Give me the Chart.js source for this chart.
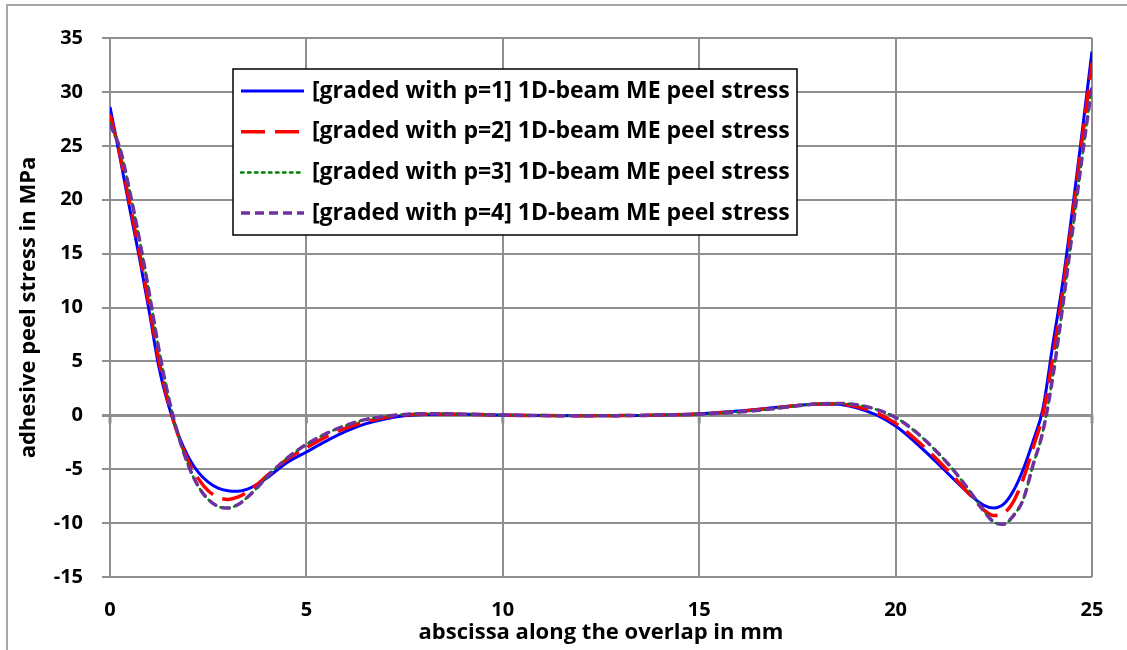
<!DOCTYPE html>
<html>
<head>
<meta charset="utf-8">
<script src="https://cdn.jsdelivr.net/npm/chart.js@4.4.0/dist/chart.umd.min.js"></script>
<style>
  html, body { margin: 0; padding: 0; background: #fff; overflow: hidden; }
  #frame { position: absolute; left: 6px; top: 4px; width: 1300px; height: 800px; border: 2px solid #a6a6a6; box-sizing: border-box; }
  #wrap { position: absolute; left: 0; top: 0; width: 1127px; height: 650px; }
</style>
</head>
<body>
<div id="frame"></div>
<div id="wrap"><canvas id="chart" width="1127" height="650"></canvas></div>
<script>
// abscissa along the overlap (mm)
const xValues = [0, 0.25, 0.5, 0.75, 1, 1.25, 1.5, 1.75, 2, 2.25, 2.5, 2.75, 3, 3.25, 3.5, 3.75, 4, 4.5, 5, 5.5, 6, 6.5, 7, 7.5, 8, 9, 10, 11, 12, 13, 14, 15, 16, 17, 17.5, 18, 18.5, 19, 19.5, 20, 20.5, 21, 21.5, 22, 22.25, 22.5, 22.75, 23, 23.25, 23.5, 23.75, 24, 24.25, 24.5, 24.75, 25];

// peel stress (MPa), graded with p = 1..4
const p1Stress = [28.6, 24.0, 19.2, 14.6, 9.6, 4.4, 0.8, -1.9, -3.9, -5.3, -6.2, -6.75, -7.0, -7.05, -6.85, -6.4, -5.8, -4.4, -3.4, -2.4, -1.5, -0.8, -0.35, -0.05, 0.08, 0.1, 0.02, -0.03, -0.05, -0.03, 0.02, 0.15, 0.4, 0.75, 0.92, 1.03, 1.02, 0.7, 0.05, -1.0, -2.5, -4.2, -6.0, -7.7, -8.35, -8.6, -8.25, -7.0, -5.0, -2.4, 0.6, 6.5, 12.2, 19.0, 26.3, 33.75];
const p2Stress = [27.9, 24.2, 19.7, 15.1, 10.1, 5.0, 1.0, -2.0, -4.3, -5.9, -7.0, -7.6, -7.8, -7.6, -7.1, -6.4, -5.6, -4.1, -3.0, -2.0, -1.2, -0.6, -0.2, 0.03, 0.12, 0.1, 0.02, -0.03, -0.05, -0.03, 0.02, 0.12, 0.35, 0.7, 0.9, 1.05, 1.06, 0.82, 0.25, -0.75, -2.2, -3.9, -5.8, -7.8, -8.8, -9.3, -9.1, -8.0, -5.9, -3.0, 0.1, 5.3, 11.4, 18.3, 25.6, 32.7];
const p3Stress = [27.1, 24.8, 20.8, 16.3, 11.3, 6.0, 1.5, -2.0, -4.7, -6.6, -7.8, -8.45, -8.6, -8.3, -7.6, -6.7, -5.7, -4.0, -2.7, -1.7, -0.95, -0.4, -0.1, 0.08, 0.15, 0.1, 0.02, -0.03, -0.05, -0.03, 0.02, 0.1, 0.3, 0.65, 0.88, 1.05, 1.1, 0.98, 0.55, -0.2, -1.5, -3.2, -5.2, -7.6, -8.9, -9.9, -10.1, -9.3, -7.8, -4.6, -1.5, 3.6, 10.0, 17.0, 24.0, 30.7];
const p4Stress = [27.0, 24.8, 20.8, 16.3, 11.3, 6.0, 1.5, -2.0, -4.7, -6.6, -7.8, -8.45, -8.6, -8.3, -7.6, -6.7, -5.7, -4.0, -2.7, -1.7, -0.95, -0.4, -0.1, 0.08, 0.15, 0.1, 0.02, -0.03, -0.05, -0.03, 0.02, 0.1, 0.3, 0.65, 0.88, 1.05, 1.1, 0.98, 0.55, -0.2, -1.5, -3.2, -5.2, -7.6, -8.9, -9.9, -10.1, -9.3, -7.8, -4.6, -1.5, 3.5, 10.0, 17.0, 24.0, 30.6];

const seriesLabels = [
  "[graded with p=1] 1D-beam ME peel stress",
  "[graded with p=2] 1D-beam ME peel stress",
  "[graded with p=3] 1D-beam ME peel stress",
  "[graded with p=4] 1D-beam ME peel stress",
];
const xTitle = "abscissa along the overlap in mm";
const yTitle = "adhesive peel stress in MPa";
const xRange = [0, 25, 5];
const yRange = [-15, 35, 5];

const FONT = "'Open Sans', 'Noto Sans', sans-serif";
const GRID = "#8f8f8f";

const toPoints = (ys) => xValues.map((x, i) => ({ x: x, y: ys[i] }));

const styles = [
  { color: "#0000ff", width: 3, dash: [] },
  { color: "#ff0000", width: 3.5, dash: [24, 10] },
  { color: "#008000", width: 2.5, dash: [2.5, 4.5] },
  { color: "#7030a0", width: 3.5, dash: [9, 5] },
];

// legend box drawn inside the plot area, like the spreadsheet original
const boxLegend = {
  id: "boxLegend",
  afterDatasetsDraw(chart) {
    const ctx = chart.ctx;
    const left = 233, top = 69, w = 564, h = 166;
    ctx.save();
    ctx.fillStyle = "#fff";
    ctx.fillRect(left, top, w, h);
    ctx.strokeStyle = "#000";
    ctx.lineWidth = 1.5;
    ctx.strokeRect(left, top, w, h);
    ctx.font = "bold 23px " + FONT;
    ctx.textBaseline = "middle";
    ctx.fillStyle = "#000";
    seriesLabels.forEach((label, i) => {
      const y = top + 22 + i * 40.7;
      const s = styles[i];
      ctx.beginPath();
      ctx.setLineDash(s.dash);
      ctx.lineCap = i === 2 ? "round" : "butt";
      ctx.strokeStyle = s.color;
      ctx.lineWidth = s.width;
      ctx.moveTo(241, y);
      ctx.lineTo(304, y);
      ctx.stroke();
      ctx.setLineDash([]);
      ctx.fillText(label, 312, y);
    });
    ctx.restore();
  },
};

// small tick marks on the zero line
const zeroTicks = {
  id: "zeroTicks",
  beforeDatasetsDraw(chart) {
    const ctx = chart.ctx;
    const xs = chart.scales.x;
    const y0 = chart.scales.y.getPixelForValue(0);
    ctx.save();
    ctx.strokeStyle = GRID;
    ctx.lineWidth = 3;
    for (let v = xRange[0]; v <= xRange[1]; v += xRange[2]) {
      const px = xs.getPixelForValue(v);
      ctx.beginPath();
      ctx.moveTo(px, y0);
      ctx.lineTo(px, y0 + 8);
      ctx.stroke();
    }
    ctx.restore();
  },
};

new Chart(document.getElementById("chart"), {
  type: "line",
  data: {
    datasets: [p1Stress, p2Stress, p3Stress, p4Stress].map((ys, i) => ({
      label: seriesLabels[i],
      data: toPoints(ys),
      borderColor: styles[i].color,
      borderWidth: styles[i].width,
      borderDash: styles[i].dash,
      borderCapStyle: i === 2 ? "round" : "butt",
      pointRadius: 0,
      fill: false,
      cubicInterpolationMode: "monotone",
      order: 3 - i,
    })),
  },
  options: {
    responsive: false,
    animation: false,
    layout: { padding: { left: 0, right: 35, top: 38, bottom: 0 } },
    plugins: { legend: { display: false }, tooltip: { enabled: false } },
    scales: {
      x: {
        type: "linear",
        min: xRange[0],
        max: xRange[1],
        ticks: { stepSize: xRange[2], padding: 21, color: "#000", font: { family: FONT, size: 20, weight: "bold" } },
        grid: { color: GRID, lineWidth: 2, drawTicks: false },
        border: { display: false },
        title: { display: true, text: xTitle, color: "#000", padding: { top: 0, bottom: 4 }, font: { family: FONT, size: 22, weight: "bold" } },
        afterFit: (s) => { s.height = 73; },
      },
      y: {
        min: yRange[0],
        max: yRange[1],
        ticks: { stepSize: yRange[2], padding: 19, color: "#000", font: { family: FONT, size: 20, weight: "bold" } },
        grid: {
          color: GRID,
          lineWidth: (c) => (c.tick && c.tick.value === 0 ? 3 : 2),
          tickLength: 8,
        },
        border: { display: false },
        title: { display: true, text: yTitle, color: "#000", padding: { top: 16, bottom: 0 }, font: { family: FONT, size: 22, weight: "bold" } },
        afterFit: (s) => { s.width = 110; },
      },
    },
  },
  plugins: [zeroTicks, boxLegend],
});
</script>
</body>
</html>
